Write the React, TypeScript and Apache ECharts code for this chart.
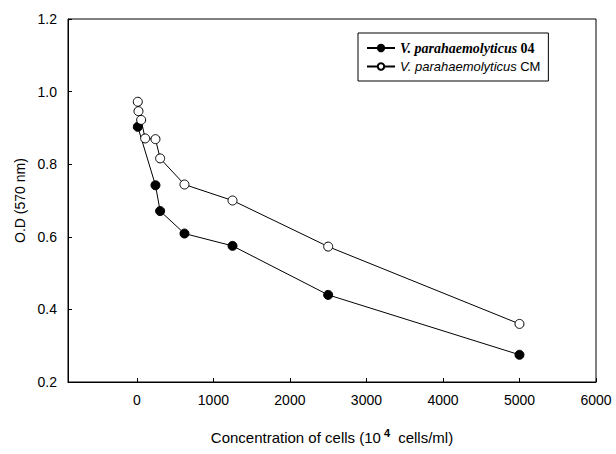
import React, { useEffect, useRef } from "react";
import * as echarts from "echarts";

const xTicks = [0, 1000, 2000, 3000, 4000, 5000, 6000];
const cmX = [12, 21, 56, 108, 243, 304, 622, 1250, 2500, 5000];
const cmY = [0.972, 0.946, 0.922, 0.871, 0.869, 0.816, 0.744, 0.70, 0.573, 0.36];
const s04X = [12, 243, 304, 622, 1250, 2500, 5000];
const s04Y = [0.903, 0.742, 0.671, 0.609, 0.575, 0.44, 0.275];
const seriesNames = ["V. parahaemolyticus 04", "V. parahaemolyticus CM"];

export default function App() {
  const ref = useRef<HTMLDivElement>(null);
  useEffect(() => {
    if (!ref.current) return;
    document.body.style.margin = "0";
    document.body.style.overflow = "hidden";
    const chart = echarts.init(ref.current, undefined, { renderer: "svg" });
    const font = "'Liberation Sans', Arial, sans-serif";
    chart.setOption({
      animation: false,
      backgroundColor: "#fff",
      grid: {
        left: 68,
        top: 19,
        right: 20,
        bottom: 72,
        show: true,
        borderColor: "#000",
        borderWidth: 1,
      },
      legend: {
        left: 358,
        top: 33,
        orient: "vertical",
        borderColor: "#000",
        borderWidth: 1,
        padding: [8, 8, 8, 8],
        itemGap: 5,
        itemWidth: 28,
        itemHeight: 8,
        data: seriesNames,
        formatter: (name: string) =>
          name === seriesNames[0]
            ? "{a|V. parahaemolyticus} {b|04}"
            : "{c|V. parahaemolyticus} {d|CM}",
        textStyle: {
          rich: {
            a: { fontFamily: "'Liberation Serif', serif", fontStyle: "italic", fontWeight: "bold", fontSize: 14, color: "#000" },
            b: { fontFamily: "'Liberation Serif', serif", fontWeight: "bold", fontSize: 14, color: "#000" },
            c: { fontFamily: font, fontStyle: "italic", fontSize: 13, color: "#000" },
            d: { fontFamily: font, fontSize: 13, color: "#000" },
          },
        },
      },
      xAxis: {
        type: "value",
        min: -900,
        max: 6000,
        name: "Concentration of cells (10{s|4} cells/ml)",
        nameLocation: "middle",
        nameGap: 45,
        nameTextStyle: {
          fontFamily: font,
          fontSize: 15,
          color: "#000",
          rich: { s: { fontFamily: font, fontSize: 11, fontWeight: "bold", verticalAlign: "top", padding: [0, 4, 10, 3], color: "#000" } },
        },
        splitLine: { show: false },
        axisLine: { onZero: false, lineStyle: { color: "#000", width: 1 } },
        axisTick: { inside: true, length: 4, lineStyle: { color: "#000" }, customValues: xTicks },
        axisLabel: {
          customValues: xTicks,
          margin: 11,
          fontFamily: font,
          fontSize: 14,
          color: "#000",
          formatter: (v: number) => String(v),
        },
      },
      yAxis: {
        type: "value",
        min: 0.2,
        max: 1.2,
        interval: 0.2,
        name: "O.D (570 nm)",
        nameLocation: "middle",
        nameGap: 38,
        nameTextStyle: { fontFamily: font, fontSize: 14, color: "#000" },
        splitLine: { show: false },
        axisLine: { show: true, onZero: false, lineStyle: { color: "#000", width: 1 } },
        axisTick: { inside: true, length: 4, lineStyle: { color: "#000" } },
        axisLabel: {
          margin: 11,
          fontFamily: font,
          fontSize: 14,
          color: "#000",
          formatter: (v: number) => v.toFixed(1),
        },
      },
      series: [
        {
          name: seriesNames[1],
          type: "line",
          data: cmX.map((x, i) => [x, cmY[i]]),
          symbol: "circle",
          symbolSize: 9,
          lineStyle: { color: "#000", width: 1 },
          itemStyle: { color: "#fff", borderColor: "#000", borderWidth: 1 },
          z: 3,
        },
        {
          name: seriesNames[0],
          type: "line",
          data: s04X.map((x, i) => [x, s04Y[i]]),
          symbol: "circle",
          symbolSize: 9,
          lineStyle: { color: "#000", width: 1 },
          itemStyle: { color: "#000", borderColor: "#000", borderWidth: 1 },
          z: 2,
        },
      ],
    });
    return () => chart.dispose();
  }, []);
  return <div ref={ref} style={{ width: 616, height: 454 }} />;
}
